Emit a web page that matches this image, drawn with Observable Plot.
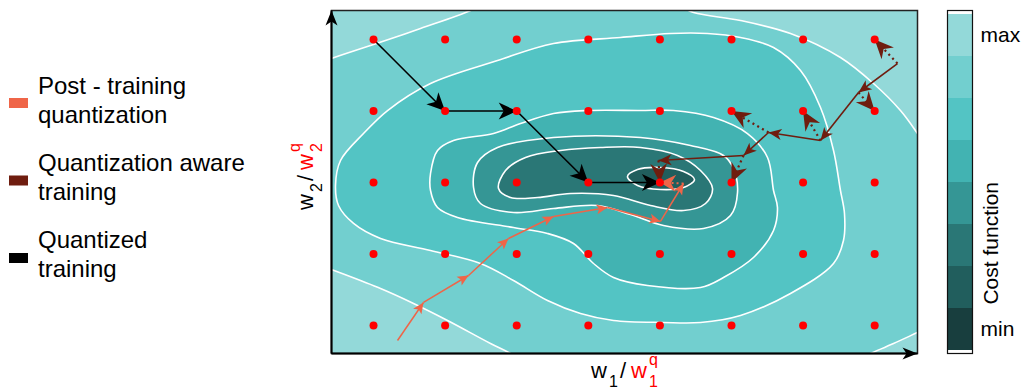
<!DOCTYPE html>
<html>
<head>
<meta charset="utf-8">
<script src="https://cdn.jsdelivr.net/npm/d3@7"></script>
<script src="https://cdn.jsdelivr.net/npm/@observablehq/plot@0.6"></script>
<style>
  html, body { margin: 0; padding: 0; background: #fff; }
  #chart { position: relative; width: 1025px; height: 389px; overflow: hidden; background: #fff; }
  #chart > svg { position: absolute; top: 0; }
</style>
</head>
<body>
<div id="chart"></div>
<script>
const FONT = "'Liberation Sans', Arial, Helvetica, sans-serif";

// quantized weight grid
const w1Levels = [1, 2, 3, 4, 5, 6, 7, 8];
const w2Levels = [1, 2, 3, 4, 5];
const w1Domain = [0.413, 8.598];
const w2Domain = [0.608, 5.406];

// cost function bands, min -> max
const costBands = [0, 1, 2, 3, 4, 5, 6, 7];
const costBandColors = ["#183e3e", "#215e5d", "#2a7776", "#359695", "#42b3b2", "#53c4c4", "#72cfcf", "#93d9d9"];
const costTickLabels = ["min", "max"];

// contour rings (cost level of the region inside each ring)
const contourLevel6 = [[0.232,4.664],[0.413,4.734],[0.958,4.916],[1.656,5.154],[2.355,5.406],[2.564,5.517],[3.891,5.615],[5.218,5.490],[5.469,5.378],[6.126,5.266],[6.824,5.084],[7.522,4.748],[7.983,4.385],[8.360,4.007],[8.598,3.685],[8.751,3.448],[8.849,2.189],[8.751,0.972],[8.598,0.902],[8.263,0.748],[7.941,0.608],[7.662,0.483],[5.427,0.343],[3.123,0.483],[2.913,0.608],[2.634,0.748],[2.034,1.070],[1.559,1.308],[1.098,1.517],[0.413,1.783],[0.232,1.853],[0.050,3.238]];
const contourLevel5 = [[5.148,5.084],[5.665,5.084],[6.126,5.028],[6.587,4.888],[6.964,4.566],[7.243,4.049],[7.425,3.448],[7.522,2.888],[7.578,2.566],[7.564,2.189],[7.425,1.867],[6.824,1.448],[6.126,1.140],[5.567,1.042],[5.050,1.042],[4.352,1.070],[3.891,1.168],[3.430,1.350],[2.955,1.629],[2.494,1.867],[1.796,2.049],[1.098,2.217],[0.721,2.427],[0.511,2.678],[0.469,2.958],[0.539,3.308],[0.860,3.685],[1.196,4.007],[1.796,4.385],[2.732,4.706],[3.514,4.944],[4.450,5.028]];
const contourLevel4 = [[4.729,4.007],[5.190,4.007],[5.749,3.909],[6.223,3.685],[6.503,3.350],[6.587,2.888],[6.642,2.650],[6.587,2.329],[6.307,1.951],[5.888,1.671],[5.567,1.531],[4.827,1.559],[4.352,1.671],[4.073,1.867],[3.793,2.147],[3.430,2.287],[2.955,2.371],[2.173,2.510],[1.894,2.650],[1.796,2.888],[1.796,3.126],[1.894,3.448],[2.117,3.587],[2.676,3.685],[3.053,3.825],[3.514,3.965],[3.989,4.007]];
const contourLevel3 = [[2.397,2.930],[2.494,2.706],[2.955,2.580],[3.514,2.636],[4.128,2.678],[4.589,2.552],[5.050,2.399],[5.609,2.357],[5.986,2.538],[6.084,2.860],[6.028,3.196],[5.888,3.378],[5.427,3.517],[4.729,3.629],[3.514,3.629],[2.732,3.490],[2.453,3.280]];
const contourLevel2 = [[2.746,2.916],[2.844,3.168],[3.123,3.350],[3.612,3.448],[4.170,3.490],[4.729,3.490],[5.246,3.378],[5.567,3.168],[5.735,2.916],[5.637,2.706],[5.330,2.608],[4.869,2.678],[4.352,2.818],[3.751,2.846],[3.291,2.790],[2.913,2.790]];
const contourLevel1 = [[4.547,3.084],[4.687,3.182],[5.008,3.210],[5.330,3.154],[5.483,3.042],[5.330,2.930],[5.008,2.902],[4.687,2.958]];
const contours = [
  {level: 6, ring: contourLevel6},
  {level: 5, ring: contourLevel5},
  {level: 4, ring: contourLevel4},
  {level: 3, ring: contourLevel3},
  {level: 2, ring: contourLevel2},
  {level: 1, ring: contourLevel1}
];

// trajectories
const quantizedPath = [[1,5],[2,4],[3,4],[4,3],[5,3]];
const ptqPath = [[1.335,0.790],[1.698,1.322],[2.327,1.699],[2.885,2.217],[3.514,2.524],[4.268,2.650],[5.008,2.455],[5.330,2.986]];
const ptqTarget = [[5,3]];
const qatPath = [[8.318,4.664],[7.774,4.259],[7.243,3.587],[6.517,3.699],[6.168,3.378],[4.980,3.308]];
const qatTargets = [[8,5],[8,4],[7,4],[6,4],[6,3],[5,3]];

// legend
const legendLabels = [["Post - training", "quantization"], ["Quantization aware", "training"], ["Quantized", "training"]];
const ORANGE = "#ef6548", DARKRED = "#6f1d0f", RED = "#ff0000";
const legendColors = [ORANGE, DARKRED, "#000000"];

// ---- helpers ----
function head(L, W, N) {
  return (color, context) => {
    const m = d3.create("svg:marker")
      .attr("viewBox", `${-L} ${-W} ${L + 1} ${2 * W}`)
      .attr("markerUnits", "userSpaceOnUse")
      .attr("markerWidth", L + 1)
      .attr("markerHeight", 2 * W)
      .attr("refX", 0).attr("refY", 0)
      .attr("orient", "auto")
      .attr("overflow", "visible");
    m.append("path")
      .attr("d", `M0,0L${-L},${-W}L${-N},0L${-L},${W}Z`)
      .attr("fill", color).attr("stroke", "none").attr("stroke-dasharray", "none");
    return m.node();
  };
}
const seg = (a, b) => ({x1: a[0], y1: a[1], x2: b[0], y2: b[1]});
const pathSegs = (p) => d3.pairs(p, seg);
const linkOpts = {x1: "x1", y1: "y1", x2: "x2", y2: "y2"};

const grid = w2Levels.flatMap(y => w1Levels.map(x => ({x, y})));
const axisSegs = [
  seg([w1Domain[0], w2Domain[0]], [w1Domain[0], w2Domain[1]]),
  seg([w1Domain[0], w2Domain[0]], [w1Domain[1], w2Domain[0]])
];

const main = Plot.plot({
  width: 1025, height: 389,
  marginLeft: 331, marginRight: 108, marginTop: 10, marginBottom: 36,
  x: {domain: w1Domain, axis: null},
  y: {domain: w2Domain, axis: null},
  style: {fontFamily: FONT, overflow: "visible"},
  marks: [
    Plot.frame({fill: costBandColors[7], stroke: null}),
    ...contours.map(c => Plot.line(c.ring, {
      x: d => d[0], y: d => d[1],
      fill: costBandColors[c.level], stroke: "white", strokeWidth: 1.6,
      curve: "catmull-rom-closed", clip: true
    })),
    Plot.frame({stroke: "#222", strokeWidth: 1.5}),
    Plot.link(axisSegs, {...linkOpts, stroke: "black", strokeWidth: 2, markerEnd: head(15, 6, 11)}),
    Plot.link(pathSegs(quantizedPath), {...linkOpts, stroke: "black", strokeWidth: 1.6, markerEnd: head(18, 8.5, 13)}),
    Plot.link(pathSegs(ptqPath), {...linkOpts, stroke: ORANGE, strokeWidth: 1.5, markerEnd: head(11, 5, 8.5)}),
    Plot.link([seg(ptqPath[ptqPath.length - 1], ptqTarget[0])], {...linkOpts, stroke: ORANGE, strokeWidth: 2, strokeDasharray: "2,3", markerEnd: head(16, 8.5, 11)}),
    Plot.link(pathSegs(qatPath), {...linkOpts, stroke: DARKRED, strokeWidth: 1.6, markerEnd: head(13, 5.5, 9.5)}),
    Plot.link(qatPath.map((p, i) => seg(p, qatTargets[i])), {...linkOpts, stroke: DARKRED, strokeWidth: 2.2, strokeDasharray: "2,3.5", markerEnd: head(19, 8.5, 13)}),
    Plot.dot(grid, {x: "x", y: "y", r: 4, fill: RED, stroke: null})
  ]
});

const svg = d3.select(main);

// axis labels  w_i / w^q_i
function weightLabel(idx, transform) {
  const t = svg.append("text").attr("transform", transform)
    .attr("text-anchor", "start").attr("font-family", FONT).attr("fill", "black");
  t.append("tspan").attr("x", 0).attr("y", 0).attr("font-size", 22).text("w");
  t.append("tspan").attr("x", 18).attr("y", 9).attr("font-size", 16).text(idx);
  t.append("tspan").attr("x", 29).attr("y", 0).attr("font-size", 22).text("/");
  t.append("tspan").attr("x", 40).attr("y", 0).attr("font-size", 22).attr("fill", RED).text("w");
  t.append("tspan").attr("x", 58).attr("y", -13).attr("font-size", 16).attr("fill", RED).text("q");
  t.append("tspan").attr("x", 58).attr("y", 9).attr("font-size", 16).attr("fill", RED).text(idx);
}
weightLabel("1", "translate(591,378)");
weightLabel("2", "translate(313,210) rotate(-90)");

// legend
const lg = svg.append("g").attr("font-family", FONT).attr("font-size", 24).attr("text-anchor", "start").attr("fill", "black");
legendLabels.forEach((lines, i) => {
  lg.append("rect").attr("x", 9).attr("y", 98 + 77.5 * i).attr("width", 19).attr("height", 10).attr("fill", legendColors[i]);
  const t = lg.append("text").attr("x", 38).attr("y", 94 + 77 * i);
  lines.forEach((s, j) => t.append("tspan").attr("x", 38).attr("dy", j ? 29 : 0).text(s));
});

main.style.left = "0px";
document.getElementById("chart").appendChild(main);

// colour bar
const cbar = Plot.plot({
  width: 85, height: 389,
  marginLeft: 7, marginRight: 53, marginTop: 10, marginBottom: 36,
  x: {axis: null},
  y: {type: "band", domain: costBands.slice().reverse(), padding: 0, axis: null},
  color: {type: "ordinal", domain: costBands, range: costBandColors},
  style: {fontFamily: FONT, fontSize: "21px", overflow: "visible"},
  marks: [
    Plot.cell(costBands, {y: d => d, fill: d => d, inset: 0}),
    Plot.frame({stroke: "#111", strokeWidth: 1.2}),
    Plot.axisY([costBands[costBands.length - 1], costBands[0]], {
      anchor: "right", tickSize: 0, tickPadding: 8, label: null,
      tickFormat: d => d === costBands[0] ? costTickLabels[0] : costTickLabels[1]
    }),
    Plot.text(["Cost function"], {text: d => d, frameAnchor: "right", rotate: -90, dx: 19, fontSize: 21})
  ]
});
cbar.style.left = "940px";
document.getElementById("chart").appendChild(cbar);
</script>
</body>
</html>
